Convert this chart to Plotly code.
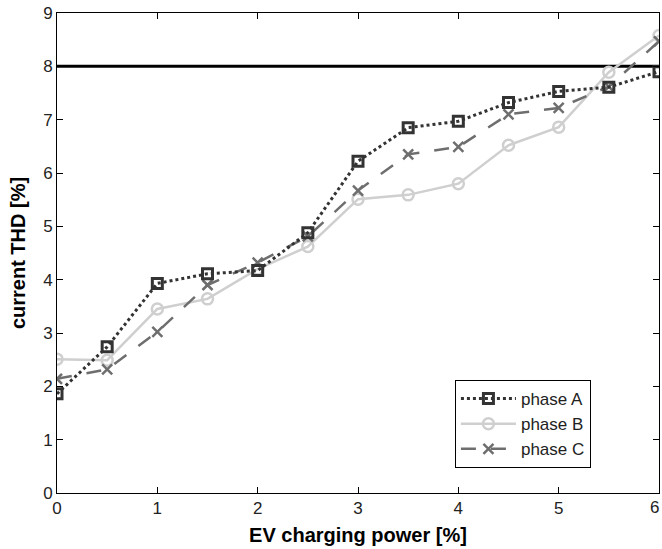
import plotly.graph_objects as go

x_power = [0, 0.5, 1, 1.5, 2, 2.5, 3, 3.5, 4, 4.5, 5, 5.5, 6]
phase_a = [1.86, 2.74, 3.93, 4.11, 4.17, 4.88, 6.22, 6.85, 6.97, 7.32, 7.53, 7.61, 7.90]
phase_b = [2.51, 2.49, 3.45, 3.64, 4.20, 4.62, 5.51, 5.59, 5.80, 6.52, 6.86, 7.89, 8.58]
phase_c = [2.14, 2.32, 3.02, 3.90, 4.32, 4.81, 5.67, 6.35, 6.49, 7.10, 7.22, 7.62, 8.47]
limit_x = [0, 6]
limit_y = [8, 8]
x_ticks = [0, 1, 2, 3, 4, 5, 6]
y_ticks = [0, 1, 2, 3, 4, 5, 6, 7, 8, 9]

FONT = "Liberation Sans, Arial"

fig = go.Figure()
fig.add_trace(go.Scatter(x=limit_x, y=limit_y, mode="lines",
                         line=dict(color="black", width=3), showlegend=False, hoverinfo="skip"))
fig.add_trace(go.Scatter(x=x_power, y=phase_b, mode="lines+markers", name="phase B",
                         line=dict(color="#cfcfcf", width=2.5, dash="solid"),
                         marker=dict(symbol="circle-open", size=11, color="#cfcfcf", line=dict(width=2.5))))
fig.add_trace(go.Scatter(x=x_power, y=phase_c, mode="lines+markers", name="phase C",
                         line=dict(color="#6e6e6e", width=2.5, dash="longdash"),
                         marker=dict(symbol="x-thin-open", size=10, color="#6e6e6e", line=dict(width=2.5, color="#6e6e6e"))))
fig.add_trace(go.Scatter(x=x_power, y=phase_a, mode="lines+markers", name="phase A",
                         line=dict(color="#333333", width=3, dash="dot"),
                         marker=dict(symbol="square-open", size=10, color="#333333", line=dict(width=3))))

axis_common = dict(showgrid=False, zeroline=False, showline=True, linecolor="black", linewidth=1,
                   mirror="ticks", ticks="inside", ticklen=6, tickcolor="black",
                   tickfont=dict(family=FONT, size=17, color="#222"))
fig.update_xaxes(range=[0, 6], tickvals=x_ticks[:-1],
                 title=dict(text="<b>EV charging power [%]</b>", font=dict(family=FONT, size=20, color="black"), standoff=10),
                 **axis_common)
fig.update_yaxes(range=[0, 9], tickvals=y_ticks,
                 title=dict(text="<b>current THD [%]</b>", font=dict(family=FONT, size=20, color="black"), standoff=12),
                 **axis_common)
# last x tick label (at the page edge in the reference)
fig.add_annotation(x=x_ticks[-1], y=0, xref="x", yref="y", text=str(x_ticks[-1]),
                   showarrow=False, yanchor="top", xanchor="right", xshift=2, yshift=-3,
                   font=dict(family=FONT, size=17, color="#222"))
fig.update_layout(
    width=662, height=549,
    margin=dict(l=57, r=3, t=13, b=56),
    plot_bgcolor="white", paper_bgcolor="white",
    font=dict(family=FONT, size=17, color="#222"),
    legend=dict(x=0.661, y=0.052, xanchor="left", yanchor="bottom",
                bordercolor="black", borderwidth=1, bgcolor="white",
                traceorder="normal", font=dict(family=FONT, size=17, color="#222"),
                tracegroupgap=0, itemwidth=55),
)
fig.data[3].legendrank = 1
fig.data[1].legendrank = 2
fig.data[2].legendrank = 3
fig.write_html("out.html")
